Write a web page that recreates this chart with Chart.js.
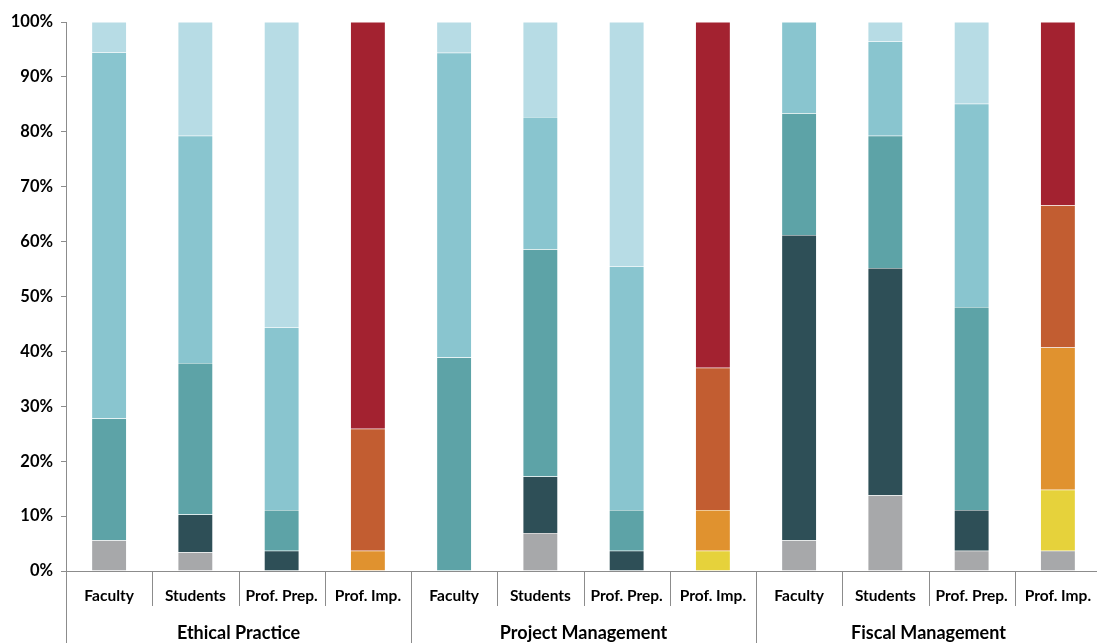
<!DOCTYPE html>
<html>
<head>
<meta charset="utf-8">
<script src="https://cdn.jsdelivr.net/npm/chart.js@4/dist/chart.umd.min.js"></script>
<style>
  html, body { margin: 0; padding: 0; background: #fff; overflow: hidden; }
  #wrap { width: 1101px; height: 643px; }
</style>
</head>
<body>
<div id="wrap"><canvas id="chart"></canvas></div>
<script>
const categories = ["Faculty", "Students", "Prof. Prep.", "Prof. Imp.",
                    "Faculty", "Students", "Prof. Prep.", "Prof. Imp.",
                    "Faculty", "Students", "Prof. Prep.", "Prof. Imp."];
const groups = ["Ethical Practice", "Project Management", "Fiscal Management"];
const yTicks = [0, 10, 20, 30, 40, 50, 60, 70, 80, 90, 100];

// stacked shares (%), bottom to top
const level1 = [5.6, 3.4, 0, 0,     0, 6.9, 0, 0,       5.6, 13.8, 3.7, 3.7];
const level2 = [0, 6.9, 3.7, 0,     0, 10.3, 3.7, 3.7,  55.6, 41.4, 7.4, 11.1];
const level3 = [22.2, 27.6, 7.4, 3.7,  38.9, 41.4, 7.4, 7.4,  22.2, 24.1, 37.0, 25.9];
const level4 = [66.7, 41.4, 33.3, 22.2, 55.5, 24.1, 44.4, 25.9, 16.6, 17.2, 37.0, 25.9];
const level5 = [5.5, 20.7, 55.6, 74.1,  5.6, 17.3, 44.5, 63.0,  0, 3.5, 14.9, 33.4];

// colours: [teal scale, imp scale]
const palette = [
  ["#A7A8AA", "#A7A8AA"],
  ["#2E4F57", "#E6D23B"],
  ["#5DA3A7", "#E0922F"],
  ["#89C5CF", "#C25D31"],
  ["#B7DCE5", "#A32230"]
];

const FONT = "Lato, 'Open Sans', sans-serif";
const AXIS = "#8c8c8c";

function colorsFor(level) {
  return categories.map((c, i) => palette[level][i % 4 === 3 ? 1 : 0]);
}

const datasets = [level1, level2, level3, level4, level5].map((d, k) => ({
  label: "L" + (k + 1),
  data: d,
  backgroundColor: colorsFor(k),
  borderColor: "rgba(255,255,255,0.35)",
  borderWidth: 0.5,
  barPercentage: 0.405,
  categoryPercentage: 1
}));

const groupAxis = {
  id: "groupAxis",
  afterDraw(chart) {
    const ctx = chart.ctx;
    const x = chart.scales.x;
    const area = chart.chartArea;
    const n = categories.length;
    const step = n > 1 ? x.getPixelForValue(1) - x.getPixelForValue(0) : area.width;
    ctx.save();
    ctx.strokeStyle = AXIS;
    ctx.lineWidth = 1;
    for (let i = 0; i <= n; i++) {
      const px = Math.round(x.getPixelForValue(0) - step / 2 + i * step) + 0.5;
      const bottom = i % 4 === 0 ? chart.height : area.bottom + 35;
      ctx.beginPath();
      ctx.moveTo(px, area.bottom);
      ctx.lineTo(px, bottom);
      ctx.stroke();
    }
    ctx.fillStyle = "#000";
    ctx.font = "bold 18px " + FONT;
    ctx.textAlign = "center";
    ctx.textBaseline = "middle";
    groups.forEach((g, gi) => {
      const cx = (x.getPixelForValue(gi * 4) + x.getPixelForValue(gi * 4 + 3)) / 2;
      ctx.fillText(g, cx, 633);
    });
    ctx.restore();
  }
};

new Chart(document.getElementById("chart"), {
  type: "bar",
  data: { labels: categories, datasets: datasets },
  options: {
    responsive: true,
    maintainAspectRatio: false,
    animation: false,
    layout: { padding: { top: 22, right: 0, left: 0, bottom: 0 } },
    plugins: { legend: { display: false }, tooltip: { enabled: false } },
    scales: {
      x: {
        stacked: true,
        grid: { display: false },
        border: { color: AXIS, width: 1 },
        ticks: {
          color: "#000",
          font: { family: FONT, size: 15.5, weight: "bold" },
          padding: 8,
          maxRotation: 0,
          autoSkip: false
        },
        afterFit(scale) { scale.height = 72; }
      },
      y: {
        stacked: true,
        min: 0,
        max: 100,
        afterBuildTicks(scale) { scale.ticks = yTicks.map(v => ({ value: v })); },
        grid: { drawOnChartArea: false, tickLength: 5, color: AXIS },
        border: { color: AXIS, width: 1 },
        ticks: {
          color: "#000",
          font: { family: FONT, size: 16.5, weight: "bold" },
          padding: 8,
          callback: v => v + "%"
        },
        afterFit(scale) { scale.width = 66; }
      }
    }
  },
  plugins: [groupAxis]
});
</script>
</body>
</html>
